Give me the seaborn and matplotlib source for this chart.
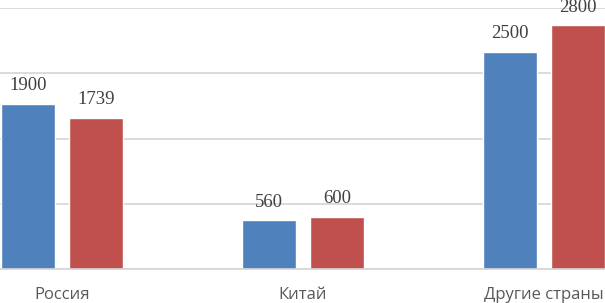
import matplotlib
matplotlib.use("Agg")
import pandas as pd
import seaborn as sns
import matplotlib.pyplot as plt

categories = ["Россия", "Китай", "Другие страны"]
series_names = ["Ряд 1", "Ряд 2"]
values_1 = [1900, 560, 2500]
values_2 = [1739, 600, 2800]
y_ticks = [0, 750, 1500, 2250, 3000]

df = pd.DataFrame({
    "country": categories * 2,
    "series": [series_names[0]] * 3 + [series_names[1]] * 3,
    "value": values_1 + values_2,
})

sns.set_style("white")

fig = plt.figure(figsize=(6.05, 3.03), dpi=100)
# the original chart is cropped on both sides, so the axes spill past the figure
ax = fig.add_axes([-58.5 / 605, 34 / 303, 723 / 605, 261 / 303])

sns.barplot(data=df, x="country", y="value", hue="series",
            palette=["#4f81bd", "#c0504d"], width=0.564, gap=0.206,
            saturation=1, legend=False, ax=ax)

for cont in ax.containers:
    ax.bar_label(cont, padding=7, fontsize=13.5, family="Liberation Serif",
                 color="#404040")

ax.set_ylim(0, 3000)
ax.set_yticks(y_ticks)
ax.set_yticklabels([])
ax.set_xlim(-0.5, 2.5)
ax.yaxis.grid(True, color="#d4d4d4", linewidth=1.2)
ax.set_axisbelow(True)
ax.set_xlabel("")
ax.set_ylabel("")
ax.tick_params(axis="x", length=0, pad=13, labelsize=12, labelcolor="#595959")
ax.tick_params(axis="y", length=0)
for lab in ax.get_xticklabels():
    lab.set_family("Open Sans")
for s in ["top", "right", "left"]:
    ax.spines[s].set_visible(False)
ax.spines["bottom"].set_color("#d4d4d4")
ax.spines["bottom"].set_linewidth(1.2)

fig.savefig("out.png", dpi=100)
